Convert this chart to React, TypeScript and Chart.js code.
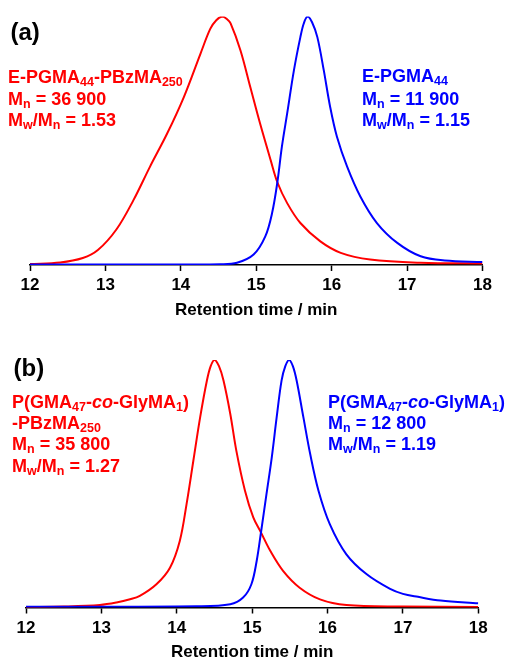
import React, { useEffect, useRef } from "react";
import { Chart, registerables } from "chart.js";
Chart.register(...registerables);

// ---------- data ----------
const xTickValues = [12, 13, 14, 15, 16, 17, 18];
const axisTitle = "Retention time / min";

// Panel (a): E-PGMA44-PBzMA250 (red)
const rtA_red = [12.0, 12.4, 12.7, 12.9, 13.15, 13.37, 13.59, 13.82, 14.04, 14.26, 14.39, 14.47, 14.55, 14.61, 14.66, 14.79, 14.92, 15.05, 15.19, 15.28, 15.41, 15.585, 15.85, 16.12, 16.51, 17.18, 18.0];
const intA_red = [0.004, 0.01, 0.028, 0.06, 0.145, 0.26, 0.395, 0.53, 0.676, 0.85, 0.95, 0.985, 1.0, 0.99, 0.972, 0.864, 0.717, 0.57, 0.423, 0.333, 0.249, 0.169, 0.095, 0.049, 0.022, 0.009, 0.006];
// Panel (a): E-PGMA44 (blue)
const rtA_blue = [12.0, 14.0, 14.52, 14.745, 14.965, 15.12, 15.21, 15.28, 15.34, 15.41, 15.5, 15.585, 15.63, 15.68, 15.74, 15.81, 15.895, 15.98, 16.07, 16.205, 16.38, 16.6, 16.87, 17.18, 17.5, 18.0];
const intA_blue = [0.002, 0.002, 0.003, 0.009, 0.042, 0.115, 0.209, 0.333, 0.476, 0.61, 0.784, 0.917, 0.972, 1.0, 0.977, 0.917, 0.784, 0.636, 0.516, 0.396, 0.276, 0.169, 0.089, 0.035, 0.018, 0.012];

// Panel (b): P(GMA47-co-GlyMA1)-PBzMA250 (red)
const rtB_red = [12.0, 12.5, 12.98, 13.2, 13.38, 13.51, 13.73, 13.91, 14.04, 14.13, 14.22, 14.31, 14.4, 14.45, 14.5, 14.56, 14.62, 14.71, 14.79, 14.905, 15.015, 15.117, 15.24, 15.41, 15.63, 15.9, 16.25, 17.0, 18.0];
const intB_red = [0.002, 0.004, 0.01, 0.02, 0.033, 0.047, 0.094, 0.161, 0.269, 0.418, 0.593, 0.768, 0.917, 0.975, 1.0, 0.975, 0.917, 0.782, 0.634, 0.472, 0.364, 0.303, 0.229, 0.148, 0.08, 0.033, 0.01, 0.004, 0.002];
// Panel (b): P(GMA47-co-GlyMA1) (blue)
const rtB_blue = [12.0, 14.26, 14.71, 14.88, 14.99, 15.06, 15.117, 15.19, 15.26, 15.325, 15.39, 15.44, 15.49, 15.54, 15.59, 15.68, 15.77, 15.88, 16.03, 16.25, 16.52, 16.83, 17.0, 17.2, 17.5, 18.0];
const intB_blue = [0.003, 0.005, 0.013, 0.04, 0.094, 0.188, 0.303, 0.458, 0.606, 0.768, 0.917, 0.975, 1.0, 0.975, 0.917, 0.768, 0.62, 0.472, 0.337, 0.215, 0.134, 0.075, 0.055, 0.043, 0.028, 0.017];

const RED = "#ff0000";
const BLUE = "#0000ff";
const FONT = "'Liberation Sans', Arial, Helvetica, sans-serif";

function toPoints(xs: number[], ys: number[]) {
  return xs.map((x, i) => ({ x, y: ys[i] }));
}

type Pad = { left: number; right: number; top: number; bottom: number };

function GpcChart(props: {
  top: number;
  height: number;
  pad: Pad;
  red: { x: number; y: number }[];
  blue: { x: number; y: number }[];
}) {
  const ref = useRef<HTMLCanvasElement | null>(null);
  useEffect(() => {
    if (!ref.current) return;
    const lineStyle = {
      borderWidth: 2,
      pointRadius: 0,
      fill: false,
      tension: 0.35,
      cubicInterpolationMode: "default",
      borderJoinStyle: "round",
    };
    const chart = new Chart(ref.current, {
      type: "line",
      data: {
        datasets: [
          { data: props.blue, borderColor: BLUE, ...lineStyle },
          { data: props.red, borderColor: RED, ...lineStyle },
        ],
      },
      options: {
        animation: false,
        responsive: false,
        maintainAspectRatio: false,
        layout: { padding: props.pad },
        plugins: { legend: { display: false }, tooltip: { enabled: false }, title: { display: false } },
        scales: {
          x: {
            type: "linear",
            min: 12,
            max: 18,
            afterBuildTicks: (scale: any) => {
              scale.ticks = xTickValues.map((v) => ({ value: v }));
            },
            grid: {
              display: true,
              drawOnChartArea: false,
              drawTicks: true,
              tickLength: 6,
              tickColor: "#000",
              tickWidth: 1.5,
            },
            border: { display: true, color: "#000", width: 1.5 },
            ticks: {
              color: "#000",
              padding: 6,
              maxRotation: 0,
              font: { family: FONT, size: 17, weight: "bold", lineHeight: 1.0 },
            },
            title: {
              display: true,
              text: axisTitle,
              color: "#000",
              padding: { top: 0, bottom: 0 },
              font: { family: FONT, size: 17, weight: "bold" },
            },
          },
          y: { display: false, min: 0, max: 1 },
        },
      },
    } as any);
    return () => chart.destroy();
  }, []);
  return (
    <canvas
      ref={ref}
      width={507}
      height={props.height}
      style={{ position: "absolute", left: 0, top: props.top, width: 507, height: props.height }}
    />
  );
}

// text line positioned by its baseline
function TextLine(props: { left: number; baseline: number; size: number; color: string; children: any }) {
  const top = props.baseline - 0.8465 * props.size;
  return (
    <div
      style={{
        position: "absolute",
        left: props.left,
        top,
        fontFamily: FONT,
        fontWeight: "bold",
        fontSize: props.size,
        lineHeight: props.size + "px",
        color: props.color,
        whiteSpace: "nowrap",
      }}
    >
      {props.children}
    </div>
  );
}

function Sub(props: { children: any }) {
  return (
    <span style={{ fontSize: 12.5, position: "relative", top: 3, lineHeight: 0 }}>{props.children}</span>
  );
}

export default function App() {
  return (
    <div style={{ position: "absolute", left: 0, top: 0, width: 507, height: 659, background: "#fff", overflow: "hidden" }}>
      <GpcChart
        top={0}
        height={330}
        pad={{ left: 30, right: 24.5, top: 16.5, bottom: 9.6 }}
        red={toPoints(rtA_red, intA_red)}
        blue={toPoints(rtA_blue, intA_blue)}
      />
      <GpcChart
        top={330}
        height={336}
        pad={{ left: 26, right: 28.7, top: 30, bottom: 3.1 }}
        red={toPoints(rtB_red, intB_red)}
        blue={toPoints(rtB_blue, intB_blue)}
      />

      {/* panel (a) labels */}
      <TextLine left={10.5} baseline={40} size={24} color="#000">(a)</TextLine>
      <TextLine left={8} baseline={83} size={18} color={RED}>
        E-PGMA<Sub>44</Sub>-PBzMA<Sub>250</Sub>
      </TextLine>
      <TextLine left={8} baseline={105} size={18} color={RED}>
        M<Sub>n</Sub> = 36 900
      </TextLine>
      <TextLine left={8} baseline={126.5} size={18} color={RED}>
        M<Sub>w</Sub>/M<Sub>n</Sub> = 1.53
      </TextLine>
      <TextLine left={362} baseline={82} size={18} color={BLUE}>
        E-PGMA<Sub>44</Sub>
      </TextLine>
      <TextLine left={362} baseline={105} size={18} color={BLUE}>
        M<Sub>n</Sub> = 11 900
      </TextLine>
      <TextLine left={362} baseline={126.5} size={18} color={BLUE}>
        M<Sub>w</Sub>/M<Sub>n</Sub> = 1.15
      </TextLine>

      {/* panel (b) labels */}
      <TextLine left={13.5} baseline={376} size={24} color="#000">(b)</TextLine>
      <TextLine left={12} baseline={408} size={18} color={RED}>
        P(GMA<Sub>47</Sub>-<i>co</i>-GlyMA<Sub>1</Sub>)
      </TextLine>
      <TextLine left={12} baseline={429.5} size={18} color={RED}>
        -PBzMA<Sub>250</Sub>
      </TextLine>
      <TextLine left={12} baseline={450.5} size={18} color={RED}>
        M<Sub>n</Sub> = 35 800
      </TextLine>
      <TextLine left={12} baseline={472} size={18} color={RED}>
        M<Sub>w</Sub>/M<Sub>n</Sub> = 1.27
      </TextLine>
      <TextLine left={328} baseline={408} size={18} color={BLUE}>
        P(GMA<Sub>47</Sub>-<i>co</i>-GlyMA<Sub>1</Sub>)
      </TextLine>
      <TextLine left={328} baseline={429.5} size={18} color={BLUE}>
        M<Sub>n</Sub> = 12 800
      </TextLine>
      <TextLine left={328} baseline={450.5} size={18} color={BLUE}>
        M<Sub>w</Sub>/M<Sub>n</Sub> = 1.19
      </TextLine>
    </div>
  );
}
